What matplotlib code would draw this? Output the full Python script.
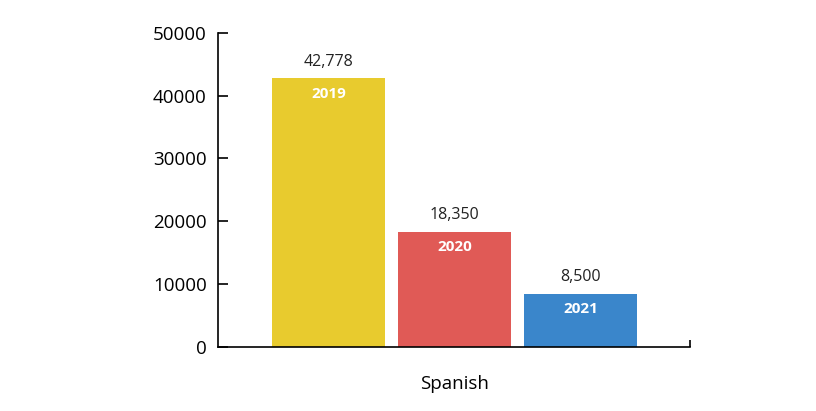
import matplotlib.pyplot as plt

plt.rcParams['font.family'] = ['Open Sans', 'DejaVu Sans']

# data
years = ['2019', '2020', '2021']
values = [42778, 18350, 8500]
colors = ['#E8CB2E', '#E05A56', '#3A86CB']
category = 'Spanish'

fig = plt.figure(figsize=(8.16, 4.11), dpi=100)
ax = fig.add_axes([0.267, 0.156, 0.579, 0.764])

x = list(range(len(values)))
bars = ax.bar(x, values, width=0.897, color=colors, zorder=2)

for xi, v, yr in zip(x, values, years):
    ax.annotate(f'{v:,}', xy=(xi, v), xytext=(0, 6), textcoords='offset points',
                ha='center', va='bottom', fontsize=11.5, color='#222222')
    ax.annotate(yr, xy=(xi, v), xytext=(0, -11), textcoords='offset points',
                ha='center', va='center', fontsize=11, color='white', fontweight='bold')

ax.set_ylim(0, 50000)
ax.set_xlim(-0.877, 2.869)
ax.set_yticks([0, 10000, 20000, 30000, 40000, 50000])
ax.tick_params(axis='y', direction='in', length=7, width=1.2, labelsize=13.5, pad=8)
ax.set_xticks([1])
ax.set_xticklabels([category])
ax.tick_params(axis='x', length=0, labelsize=13.5, pad=20)
ax.set_xticks([2.869], minor=True)
ax.tick_params(axis='x', which='minor', direction='in', length=5, width=1.2)

for s in ['top', 'right']:
    ax.spines[s].set_visible(False)
ax.spines['left'].set_linewidth(1.2)
ax.spines['bottom'].set_linewidth(1.2)

fig.savefig('out.png', dpi=100, facecolor='white')
